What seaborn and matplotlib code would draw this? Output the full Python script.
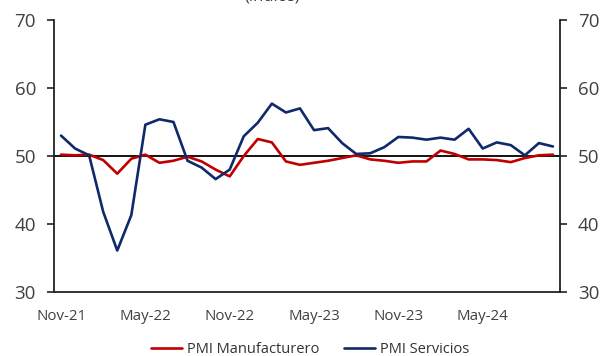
import numpy as np
import pandas as pd
import seaborn as sns
import matplotlib.pyplot as plt

months = ["Nov-21", "Dec-21", "Jan-22", "Feb-22", "Mar-22", "Apr-22",
          "May-22", "Jun-22", "Jul-22", "Aug-22", "Sep-22", "Oct-22",
          "Nov-22", "Dec-22", "Jan-23", "Feb-23", "Mar-23", "Apr-23",
          "May-23", "Jun-23", "Jul-23", "Aug-23", "Sep-23", "Oct-23",
          "Nov-23", "Dec-23", "Jan-24", "Feb-24", "Mar-24", "Apr-24",
          "May-24", "Jun-24", "Jul-24", "Aug-24", "Sep-24", "Oct-24"]

pmi_manuf = [50.2, 50.1, 50.2, 49.4, 47.4, 49.6,
             50.2, 49.0, 49.3, 49.9, 49.2, 48.0,
             47.0, 50.0, 52.5, 52.0, 49.2, 48.7,
             49.0, 49.3, 49.7, 50.1, 49.5, 49.3,
             49.0, 49.2, 49.2, 50.8, 50.3, 49.5,
             49.5, 49.4, 49.1, 49.7, 50.1, 50.2]

pmi_serv = [53.0, 51.1, 50.1, 41.8, 36.1, 41.3,
            54.6, 55.4, 55.0, 49.3, 48.3, 46.6,
            48.0, 52.9, 54.9, 57.7, 56.4, 57.0,
            53.8, 54.1, 51.9, 50.3, 50.4, 51.3,
            52.8, 52.7, 52.4, 52.7, 52.4, 54.0,
            51.1, 52.0, 51.6, 50.1, 51.9, 51.4]

series_names = ["PMI Manufacturero", "PMI Servicios"]
series_colors = ["#C00000", "#0E2A6B"]

df = pd.DataFrame({
    "idx": list(range(len(months))) * 2,
    "valor": pmi_manuf + pmi_serv,
    "serie": [series_names[0]] * len(months) + [series_names[1]] * len(months),
})

sns.set_style("white")
plt.rcParams["font.family"] = ["Open Sans", "DejaVu Sans"]

fig = plt.figure(figsize=(6.07, 3.56), dpi=100)
ax = fig.add_axes([54 / 607, 1 - 292 / 356, 506 / 607, 272 / 356])

sns.lineplot(data=df, x="idx", y="valor", hue="serie", hue_order=series_names,
             palette=series_colors, linewidth=1.9, ax=ax)

ax.axhline(50, color="black", linewidth=1.3, zorder=1)

n = len(months)
ax.set_xlim(-0.5, n - 0.5)
ax.set_ylim(30, 70)
ax.set_yticks([30, 40, 50, 60, 70])

# ticks between categories, labels at category centres
ax.set_xticks(np.arange(-0.5, n, 6))
ax.set_xticklabels([])
ax.set_xticks(np.arange(0, n, 6), minor=True)
ax.set_xticklabels(months[::6], minor=True)
ax.tick_params(axis="x", which="major", length=5, width=1.2, color="#222222", direction="out")
ax.tick_params(axis="x", which="minor", length=0, labelsize=10.8, colors="#404040", pad=12)
ax.tick_params(axis="y", length=5, width=1.2, direction="out", labelsize=13.5,
               labelcolor="#404040", color="#222222", left=True, right=True,
               labelleft=True, labelright=True, pad=8)

ax.set_xlabel("")
ax.set_ylabel("")
for side in ["left", "right", "bottom"]:
    ax.spines[side].set_color("#222222")
    ax.spines[side].set_linewidth(1.3)
ax.spines["top"].set_visible(False)

ax.legend(loc="center", bbox_to_anchor=(0.511, 0.018), bbox_transform=fig.transFigure,
          ncol=2, frameon=False, fontsize=10.5, handlelength=2.1, columnspacing=1.7,
          handletextpad=0.35, labelcolor="#333333", borderpad=0)

fig.text(0.448, 0.9985, "(índice)", ha="center", va="baseline", fontsize=12, color="#404040")

fig.savefig("out.png", dpi=100)
